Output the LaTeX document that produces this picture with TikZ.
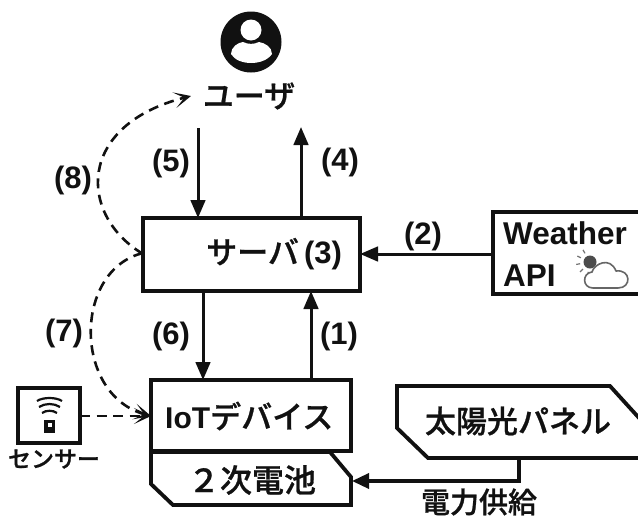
\documentclass[tikz,border=0pt]{standalone}
\usepackage{fontspec}
\setmainfont{Liberation Sans}
\newfontfamily\jpf[RawFeature={embolden=0.8}]{Noto Sans CJK JP Medium}
\usetikzlibrary{arrows.meta,calc}
\newcommand{\fs}[1]{\fontsize{#1}{#1}\selectfont}
\definecolor{ink}{HTML}{111111}
\tikzset{
  x=1pt,y=-1pt,
  boxed/.style={draw=ink,line width=3.8pt,fill=white,inner sep=0pt,outer sep=0pt,anchor=north west},
  outline/.style={draw=ink,line width=3.8pt,line join=miter},
  flow/.style={draw=ink,line width=3pt,-{Triangle[length=18pt,width=14.5pt]}},
  dflow/.style={draw=ink,line width=2.6pt,dash pattern=on 10pt off 6.5pt,-{Stealth[length=17pt,width=16pt,inset=10pt]}},
  lab/.style={font=\bfseries\fs{31},text=ink,inner sep=0pt},
  jptext/.style={font=\jpf\fs{#1},text=ink,inner sep=0pt},
}
\begin{document}
\begin{tikzpicture}
\useasboundingbox (0,0) rectangle (638,515);
\clip (0,0) rectangle (638,515);
\fill[white] (0,0) rectangle (638,515);
% boxes
\node[boxed,minimum width=217pt,minimum height=73pt] (srv) at (143,218) {};
\node[boxed,minimum width=200pt,minimum height=71pt] (iot) at (151,380) {};
\node[boxed,minimum width=160pt,minimum height=82pt] (wapi) at (493,212) {};
\node[boxed,minimum width=62pt,minimum height=55pt] (sens) at (18,388) {};
% battery and solar shapes
\draw[outline,fill=white] (151,452) -- (330,452) -- (351,477) -- (351,505) -- (173,505) -- (151,484) -- cycle;
\draw[outline,fill=white] (397,386) -- (610,386) -- (650,430) -- (650,458) -- (428,458) -- (397,428) -- cycle;
\coordinate (solarb) at (519,458);
\coordinate (batr) at (352,481);
% texts
\node[anchor=west,jptext=31] (srvt) at (206,254) {サーバ\,{\rmfamily\bfseries\fs{31}(3)}};
\node[jptext=31] (usert) at (249,96) {ユーザ};
\node[anchor=west,font=\fs{30}\bfseries,text=ink,inner sep=0pt] (iott) at (165,416) {IoT{\jpf\mdseries\fs{31}デバイス}};
\node[jptext=32] (batt) at (252,480) {２次電池};
\node[jptext=31] (solt) at (518,421) {太陽光パネル};
\node[jptext=29] (powt) at (479,502) {電力供給};
\node[jptext=23] (senst) at (54,459) {センサー};
\node[anchor=west,font=\bfseries\fs{31.5},text=ink,inner sep=0pt] (wt) at (503,233) {Weather};
\node[anchor=west,font=\bfseries\fs{31.5},text=ink,inner sep=0pt] (at) at (503,276) {API};
\node[lab] (l1) at (339,336) {(1)};
\node[lab] (l2) at (423,236) {(2)};
\node[lab] (l4) at (340,162) {(4)};
\node[lab] (l5) at (171,163) {(5)};
\node[lab] (l6) at (171,336) {(6)};
\node[lab] (l7) at (64,333) {(7)};
\node[lab] (l8) at (73,180) {(8)};
% solid connectors
\coordinate (u5) at (198,128);
\coordinate (u4) at (301,127);
\coordinate (c1) at (311,380);
\coordinate (c6) at (203,380);
\coordinate (c2) at (493,254);
\draw[flow] (u5) -- (srv.north -| u5);
\draw[flow] (srv.north -| u4) -- (u4);
\draw[flow] (wapi.west |- c2) -- (srv.east |- c2);
\draw[flow] (iot.north -| c1) -- (srv.south -| c1);
\draw[flow] (srv.south -| c6) -- (iot.north -| c6);
\draw[draw=ink,line width=3.4pt,-{Triangle[length=17pt,width=15pt]}] (solarb) -- (519,481) -- (batr);
% dashed connectors
\coordinate (e8) at (191,96);
\coordinate (s8) at (141,254);
\coordinate (s7) at (141,253);
\coordinate (e7) at (149,416);
\draw[dflow] (srv.west |- s8) .. controls (78,215) and (76,125) .. (e8);
\draw[dflow] (srv.west |- s7) .. controls (73,270) and (73,395) .. (iot.west |- e7);
\draw[dflow] (sens.east |- e7) -- (iot.west |- e7);
% user icon
\fill[ink] (251,42) circle (30.5);
\fill[white] (251,30) circle (10.5);
\fill[white] (231,54) .. controls (231,47) and (238,42.5) .. (243,42) .. controls (248,44.5) and (254,44.5) .. (259,42) .. controls (265,43) and (272,47) .. (272,54) .. controls (264,66) and (238,66) .. (231,54) -- cycle;
% sensor icon
\begin{scope}[ink,line width=2.2pt]
\draw (37,401) .. controls (43,397) and (56,397) .. (62,401);
\draw (39,407) .. controls (45,403) and (54,403) .. (60,407);
\draw (42,413) .. controls (46,410) and (53,410) .. (57,413);
\end{scope}
\fill[ink] (44,420) rectangle (55,433);
\fill[white] (47.5,423) rectangle (51.5,427);
% weather icon
\fill[black!70] (590,262) circle (6.5);
\foreach \a in {100,135,170,205,240,65,30}{
  \draw[black!55,line width=1.2pt] ($(590,262)+(\a:10)$) -- ($(590,262)+(\a:14)$);
}
\draw[black!60,fill=white,line width=1.6pt,line join=round] (593,288) .. controls (582,288) and (582,273) .. (592,272) .. controls (594,264) and (610,256) .. (616,271) .. controls (631,269) and (632,288) .. (618,288) -- cycle;
\end{tikzpicture}
\end{document}
